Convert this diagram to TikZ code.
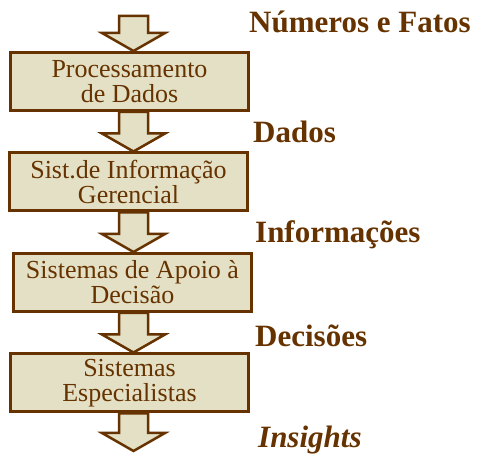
\documentclass[tikz,border=0pt]{standalone}
\usepackage{fontspec}
\setmainfont{Liberation Serif}
\usetikzlibrary{positioning,calc,backgrounds,shadows}
\definecolor{darkbrown}{RGB}{102,51,0}
\definecolor{paleolive}{RGB}{227,224,198}

% block arrow from the bottom of one node down to the top of the next
\newcommand{\blockarrow}[2]{%
  \coordinate (ta) at (axis |- #1);
  \coordinate (tb) at (axis |- #2);
  \draw[flowarrow] ($(ta)+(-14.5,0)$) -- ($(tb)+(-14.5,18)$) -- ($(tb)+(-31.5,18)$) -- (tb)
    -- ($(tb)+(31.5,18)$) -- ($(tb)+(14.5,18)$) -- ($(ta)+(14.5,0)$) -- cycle;}

\begin{document}
\begin{tikzpicture}[
        x=1pt, y=1pt,
        node distance=39.5pt,
        sysbox/.style={rectangle, draw=darkbrown, fill=paleolive, line width=3pt, minimum width=238pt, minimum height=58pt, inner sep=0pt, align=center, text=darkbrown, font=\fontsize{26}{25}\selectfont},
        tag/.style={anchor=base west, inner sep=0pt, text=darkbrown, font=\fontsize{31}{35}\selectfont\bfseries},
        flowarrow/.style={draw=darkbrown, fill=paleolive, line width=2.5pt, line join=miter}
    ]
        \useasboundingbox (0,0) rectangle (480,455);
        \coordinate (axis) at (133.5,0);

        % Systems
        \node[sysbox] (pd) at (129.5,373.5) {Processamento\\de Dados};
        \node[sysbox, below=of pd, xshift=-1pt] (sig) {Sist.de Informação\\Gerencial};
        \node[sysbox, below=of sig, xshift=4pt, drop shadow={shadow xshift=-1.5pt, shadow yshift=-1.5pt, fill=darkbrown!60}] (sad) {Sistemas de Apoio à\\Decisão};
        \node[sysbox, below=of sad, xshift=-3pt] (se) {Sistemas\\Especialistas};

        % Levels
        \node[tag] (numeros) at (249,422) {Números e Fatos};
        \node[tag] (dados) at (253,312) {Dados};
        \node[tag] (info) at (255,212) {Informações};
        \node[tag] (decisoes) at (255,108) {Decisões};
        \node[tag, font=\fontsize{31}{35}\selectfont\bfseries\itshape] (insights) at (258,7) {Insights};

        % Arrows
        \coordinate (start) at (133.5,439);
        \coordinate (finish) at (133.5,4);
        \begin{scope}[on background layer]
            \blockarrow{start}{pd.north}
            \blockarrow{pd.south}{sig.north}
            \blockarrow{sig.south}{sad.north}
            \blockarrow{sad.south}{se.north}
            \blockarrow{se.south}{finish}
        \end{scope}
    \end{tikzpicture}
\end{document}
